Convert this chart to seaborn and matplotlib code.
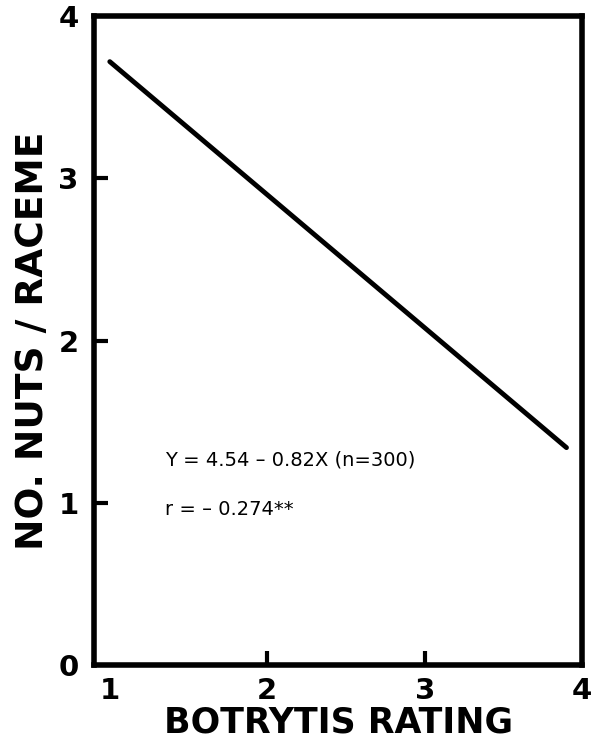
import matplotlib.pyplot as plt
import pandas as pd
import seaborn as sns

# values
rating = [1.0, 3.9]
nuts_per_raceme = [3.72, 1.34]

x_ticks = [1, 2, 3, 4]
y_ticks = [0, 1, 2, 3, 4]

equation_text = "Y = 4.54 \u2013 0.82X (n=300)"
r_text = "r = \u2013 0.274**"

sns.set_theme(style="white")
plt.rcParams['font.family'] = ['DejaVu Sans']
plt.rcParams['text.color'] = 'black'
plt.rcParams['axes.labelcolor'] = 'black'
plt.rcParams['xtick.color'] = 'black'
plt.rcParams['ytick.color'] = 'black'

df = pd.DataFrame({'rating': rating, 'nuts': nuts_per_raceme})

fig = plt.figure(figsize=(5.99, 7.38), dpi=100)
ax = fig.add_axes([0.157, 0.099, 0.815, 0.879])

sns.lineplot(x='rating', y='nuts', data=df, color='black', linewidth=3.5,
             solid_capstyle='round', ax=ax)

ax.set_xlim(0.9, 4.0)
ax.set_ylim(0, 4)
ax.set_xticks(x_ticks)
ax.set_yticks(y_ticks)
ax.set_xticklabels([str(t) for t in x_ticks], fontsize=21, fontweight='bold')
ax.set_yticklabels([str(t) for t in y_ticks], fontsize=21, fontweight='bold')
ax.tick_params(axis='both', direction='in', length=10, width=3, color='black',
               bottom=True, left=True)
ax.tick_params(axis='x', pad=9)
ax.tick_params(axis='y', pad=11)

# no visible tick marks at the corners / at rating 1
for t in ax.xaxis.get_major_ticks():
    if t.get_loc() in (1, 4):
        t.tick1line.set_visible(False)
for t in ax.yaxis.get_major_ticks():
    if t.get_loc() in (0, 4):
        t.tick1line.set_visible(False)

for side in ['top', 'right', 'bottom', 'left']:
    ax.spines[side].set_visible(True)
    ax.spines[side].set_linewidth(4)
    ax.spines[side].set_color('black')

ax.set_xlabel('BOTRYTIS RATING', fontsize=25, fontweight='bold', labelpad=0)
ax.set_ylabel('NO. NUTS / RACEME', fontsize=27, fontweight='bold', labelpad=5)

ax.text(1.35, 1.265, equation_text, fontsize=14, va='center', ha='left')
ax.text(1.35, 0.957, r_text, fontsize=14, va='center', ha='left')

fig.savefig('out.png', dpi=100)
